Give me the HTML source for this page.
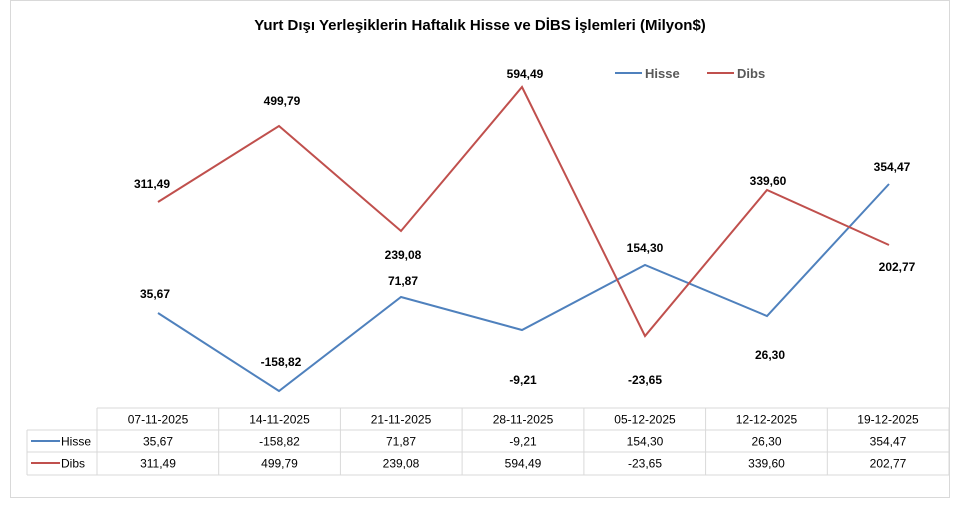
<!DOCTYPE html>
<html><head><meta charset="utf-8"><style>
body{margin:0;background:#fff;}
svg{display:block;font-family:"Liberation Sans",sans-serif;}
</style></head><body>
<svg width="960" height="509" viewBox="0 0 960 509">
<rect x="10.5" y="0.5" width="939" height="497" fill="#fff" stroke="#d9d9d9"/>
<text x="480" y="30" text-anchor="middle" font-size="15" font-weight="bold" fill="#000">Yurt Dışı Yerleşiklerin Haftalık Hisse ve DİBS İşlemleri (Milyon$)</text>
<line x1="615" y1="73" x2="642" y2="73" stroke="#4f81bd" stroke-width="2"/>
<text x="645" y="78" font-size="13" font-weight="bold" fill="#595959">Hisse</text>
<line x1="707" y1="73" x2="734" y2="73" stroke="#c0504d" stroke-width="2"/>
<text x="737" y="78" font-size="13" font-weight="bold" fill="#595959">Dibs</text>
<polyline fill="none" stroke="#4f81bd" stroke-width="2" points="158,313 279,391 401,297 522,330 645,265 767,316 889,184"/>
<polyline fill="none" stroke="#c0504d" stroke-width="2" points="158,202 279,126 401,231 522,87 645,336 767,190 889,245"/>
<g font-size="12" font-weight="bold" fill="#000" text-anchor="middle">
<text x="155" y="298">35,67</text><text x="281" y="366">-158,82</text><text x="403" y="285">71,87</text><text x="523" y="384">-9,21</text><text x="645" y="252">154,30</text><text x="770" y="359">26,30</text><text x="892" y="171">354,47</text>
<text x="152" y="188">311,49</text><text x="282" y="105">499,79</text><text x="403" y="259">239,08</text><text x="525" y="78">594,49</text><text x="645" y="384">-23,65</text><text x="768" y="185">339,60</text><text x="897" y="271">202,77</text>
</g>
<g stroke="#d9d9d9" fill="none">
<line x1="97" y1="408" x2="949" y2="408"/>
<line x1="27" y1="430" x2="949" y2="430"/>
<line x1="27" y1="452" x2="949" y2="452"/>
<line x1="27" y1="475" x2="949" y2="475"/>
<line x1="27" y1="430" x2="27" y2="475"/>
<line x1="97" y1="408" x2="97" y2="475"/>
<line x1="218.7" y1="408" x2="218.7" y2="475"/>
<line x1="340.4" y1="408" x2="340.4" y2="475"/>
<line x1="462.1" y1="408" x2="462.1" y2="475"/>
<line x1="583.9" y1="408" x2="583.9" y2="475"/>
<line x1="705.6" y1="408" x2="705.6" y2="475"/>
<line x1="827.3" y1="408" x2="827.3" y2="475"/>
<line x1="949" y1="408" x2="949" y2="475"/>
</g>
<line x1="31" y1="441" x2="60" y2="441" stroke="#4f81bd" stroke-width="2"/>
<text x="61" y="445.5" font-size="12" fill="#000">Hisse</text>
<line x1="31" y1="463" x2="60" y2="463" stroke="#c0504d" stroke-width="2"/>
<text x="61" y="467.5" font-size="12" fill="#000">Dibs</text>
<g font-size="12" fill="#000" text-anchor="middle">
<text x="158" y="423.5">07-11-2025</text><text x="279.5" y="423.5">14-11-2025</text><text x="401" y="423.5">21-11-2025</text><text x="523" y="423.5">28-11-2025</text><text x="645" y="423.5">05-12-2025</text><text x="766.5" y="423.5">12-12-2025</text><text x="888" y="423.5">19-12-2025</text>
<text x="158" y="445.5">35,67</text><text x="279.5" y="445.5">-158,82</text><text x="401" y="445.5">71,87</text><text x="523" y="445.5">-9,21</text><text x="645" y="445.5">154,30</text><text x="766.5" y="445.5">26,30</text><text x="888" y="445.5">354,47</text>
<text x="158" y="467.5">311,49</text><text x="279.5" y="467.5">499,79</text><text x="401" y="467.5">239,08</text><text x="523" y="467.5">594,49</text><text x="645" y="467.5">-23,65</text><text x="766.5" y="467.5">339,60</text><text x="888" y="467.5">202,77</text>
</g>
</svg>
</body></html>
